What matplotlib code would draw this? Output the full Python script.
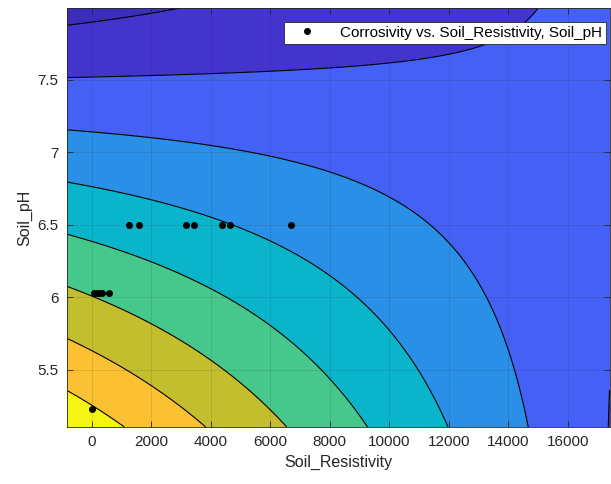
import numpy as np
import matplotlib.pyplot as plt

plt.rcParams['font.family'] = ['Liberation Sans', 'DejaVu Sans']

# measured samples
soil_resistivity = [1264, 1580, 3160, 3429, 4390, 4649, 6689,
                    77, 168, 255, 336, 592, 20]
soil_ph = [6.5, 6.5, 6.5, 6.5, 6.5, 6.5, 6.5,
           6.03, 6.03, 6.03, 6.03, 6.03, 5.23]

# contour lines of the fitted surface (level index 1..8)
trace_level = [1, 1, 1, 1,
               2, 2, 2, 2, 2, 2, 2, 2,
               3, 3, 3, 3, 3, 3, 3, 3, 3, 3,
               4, 4, 4, 4, 4, 4, 4, 4,
               5, 5, 5, 5, 5, 5, 5, 5,
               6, 6, 6, 6, 6,
               7, 7, 7,
               8, 8]
trace_x = [-830, 279, 1960, 3697,
           -830, 7674, 10027, 12044, 13277, 14171, 14958, 17360,
           -830, 3976, 5993, 8346, 10363, 11482, 12605, 13499, 14171, 14676,
           -840, 3640, 5993, 7002, 8010, 9422, 10700, 11966,
           -840, 2071, 3808, 4649, 5657, 6776, 8010, 9244,
           -840, 279, 1850, 4034, 6555,
           -840, 1176, 3866,
           -840, 1119]
trace_y = [7.857, 7.937, 7.983, 8.005,
           7.5, 7.557, 7.603, 7.672, 7.741, 7.845, 7.994, 5.107,
           7.143, 7.052, 6.971, 6.833, 6.707, 6.581, 6.350, 6.029, 5.684, 5.109,
           6.788, 6.569, 6.397, 6.270, 6.143, 5.790, 5.454, 5.109,
           6.431, 6.305, 6.134, 5.983, 5.845, 5.707, 5.454, 5.109,
           6.074, 5.983, 5.810, 5.523, 5.109,
           5.719, 5.512, 5.109,
           5.362, 5.109]

band_colors = ['#3c2eb8', '#4334cd', '#4560f5', '#2a8fe6', '#0ab4cb',
               '#46c88c', '#c3be2d', '#fcc132', '#f5f514']

xlim = (-830, 17405)
ylim = (5.105, 7.995)


def design(x, y):
    u = np.asarray(x, float) / 1000.0
    v = np.asarray(y, float) - 6.5
    return np.stack([np.ones_like(u), u, v, u * u, u * v, v * v], axis=-1)


# quadratic surface through the traced levels (the sparse upper lines count a bit more)
w = np.where(np.array(trace_level) <= 2, 2.5, 1.0)
w[11] = 6.0  # lone point of the lower-right branch
A = design(trace_x, trace_y) * w[:, None]
coef, *_ = np.linalg.lstsq(A, np.array(trace_level, float) * w, rcond=None)

gx, gy = np.meshgrid(np.linspace(*xlim, 400), np.linspace(*ylim, 400))
gz = design(gx, gy) @ coef

fig = plt.figure(figsize=(6.11, 4.84), dpi=100)
ax = fig.add_axes([67 / 611, 57 / 484, 542.5 / 611, 419 / 484])

levels = np.arange(1, 9)
ax.contourf(gx, gy, gz, levels=np.concatenate([[-1e9], levels, [1e9]]), colors=band_colors)
ax.contour(gx, gy, gz, levels=levels, colors='k', linewidths=0.8)

ax.plot(soil_resistivity, soil_ph, 'o', color='k', ms=4, ls='none',
        label='Corrosivity vs. Soil_Resistivity, Soil_pH')

ax.set_xlim(xlim)
ax.set_ylim(ylim)
ax.set_xticks(np.arange(0, 17000, 2000))
ax.set_yticks([5.5, 6, 6.5, 7, 7.5])
ax.set_yticklabels(['5.5', '6', '6.5', '7', '7.5'])
ax.grid(True, color='#262626', alpha=0.15, lw=0.6)
ax.set_axisbelow(False)
ax.tick_params(direction='in', length=4, width=0.6, top=True, right=True,
               colors='#262626', labelsize=11, pad=6)
for s in ax.spines.values():
    s.set_color('#262626')
    s.set_linewidth(0.6)

ax.set_xlabel('Soil_Resistivity', fontsize=11.5, color='#262626')
ax.set_ylabel('Soil_pH', fontsize=11.5, color='#262626')

leg = ax.legend(loc='upper right', bbox_to_anchor=(606 / 611, 1 - 22 / 484),
                bbox_transform=fig.transFigure, borderaxespad=0, fontsize=11,
                fancybox=False, framealpha=1, edgecolor='#262626',
                handlelength=2.4, handletextpad=1.0, borderpad=0.25)
leg.get_frame().set_linewidth(0.6)

fig.savefig('out.png', dpi=100)
